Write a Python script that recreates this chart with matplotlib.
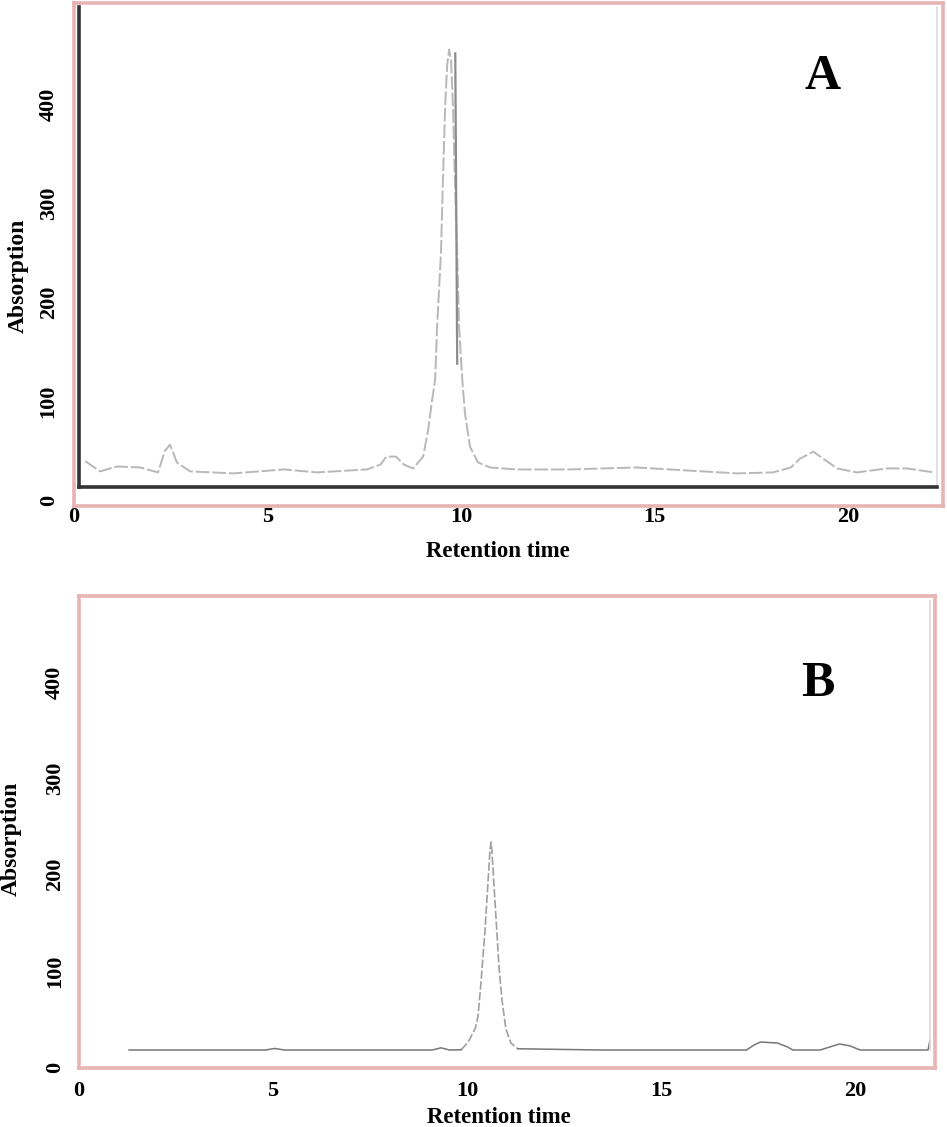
import matplotlib.pyplot as plt
import numpy as np

# chromatogram A (retention time, absorption)
retA = [0.29, 0.67, 1.11, 1.71, 2.17, 2.35, 2.48, 2.66, 3.0, 4.12, 5.42, 6.28, 7.57,
        7.92, 8.07, 8.32, 8.52, 8.76, 9.02, 9.15, 9.25, 9.33, 9.38, 9.48, 9.53, 9.59,
        9.64, 9.69, 9.74, 9.79, 9.84, 9.9, 9.95, 10.03, 10.1, 10.23, 10.44, 10.75,
        11.42, 12.82, 14.52, 17.12, 18.06, 18.52, 18.76, 19.1, 19.35, 19.72, 20.22,
        21.02, 21.52, 22.22]
absA = [39.5, 29, 34, 33, 28, 50, 56, 38, 29, 27, 31, 28, 31,
        36, 44, 44, 36, 32, 44, 71, 101, 122, 175, 250, 322, 400,
        440, 456, 445, 400, 322, 250, 175, 122, 88, 54, 38, 33,
        31, 31, 33, 27, 28, 33, 42, 49, 42, 32, 28,
        32, 32, 28]
# solid trace next to the top of the main peak in A
spikeA_x = [9.85, 9.9]
spikeA_y = [452, 138]

# chromatogram B
retB = [1.29, 3.0, 4.8, 5.04, 5.3, 7.0, 9.1, 9.33, 9.55, 9.85, 10.03, 10.21, 10.28,
        10.36, 10.41, 10.46, 10.54, 10.59, 10.62, 10.64, 10.69, 10.77, 10.82, 10.9,
        11.0, 11.13, 11.31, 13.5, 17.2, 17.4, 17.56, 18.0, 18.25, 18.4, 19.1, 19.36,
        19.6, 19.87, 20.13, 21.88, 21.93]
absB = [17.7, 17.7, 17.7, 19.3, 17.7, 17.7, 17.7, 20, 17.7, 18, 26, 40, 52,
        88, 115, 140, 192, 225, 234, 225, 192, 140, 106, 70,
        40, 25, 19, 17.7, 17.7, 23, 26, 25, 21, 17.7, 17.7, 21,
        24, 22, 17.7, 17.7, 28]

xticks = [0, 5, 10, 15, 20]
yticks = [0, 100, 200, 300, 400]

plt.rcParams['font.family'] = ['Liberation Serif', 'DejaVu Serif']
plt.rcParams['font.weight'] = 'bold'

W, H = 947, 1127
fig = plt.figure(figsize=(W / 100, H / 100), dpi=100)

def frac(l, t, r, b):
    return [l / W, 1 - b / H, (r - l) / W, (b - t) / H]

pink = '#e8b3b3'

def style(ax, xlim, ylim, xpad, ypad):
    ax.set_xlim(*xlim)
    ax.set_ylim(*ylim)
    ax.set_xticks(xticks)
    ax.set_yticks(yticks)
    ax.tick_params(axis='x', length=0, pad=xpad, labelsize=16)
    ax.tick_params(axis='y', length=0, pad=ypad, labelsize=16)
    for lab in ax.get_yticklabels():
        lab.set_rotation(90)
        lab.set_va('center')
    for s in ax.spines.values():
        s.set_color(pink)
        s.set_linewidth(2.6)

# ---- panel A ----
axA = fig.add_axes(frac(74, 3, 943, 506))
axA.plot(retA, absA, color='#b8b8b8', lw=1.4, ls=(0, (7, 1.5)))
axA.plot(spikeA_x, spikeA_y, color='#8c8c8c', lw=1.6)
style(axA, (0, 22.45), (-6, 503), 1, 11)
axA.set_xlabel('Retention time', fontsize=16.5, fontweight='bold')
axA.xaxis.set_label_coords(0.488, -0.0895)
axA.xaxis.label.set_va('center')
axA.set_ylabel('Absorption', fontsize=17, fontweight='bold')
axA.yaxis.set_label_coords(-0.064, 0.457)
axA.yaxis.label.set_va('center')
axA.text(0.861, 0.853, 'A', transform=axA.transAxes, fontsize=36,
         fontweight='bold', ha='center', va='center')

# inner frame of the original instrument plot
innA = fig.add_axes(frac(79, 7, 937, 487))
innA.set_facecolor('none')
innA.set_xticks([])
innA.set_yticks([])
innA.spines['top'].set_visible(False)
innA.spines['left'].set_color('#333333')
innA.spines['left'].set_linewidth(2.6)
innA.spines['bottom'].set_color('#333333')
innA.spines['bottom'].set_linewidth(2.6)
innA.spines['right'].set_color('#dddddd')
innA.spines['right'].set_linewidth(1.2)

# ---- panel B ----
axB = fig.add_axes(frac(79, 596, 935, 1068))
rb = np.array(retB)
ab = np.array(absB)
peak = (rb >= 9.85) & (rb <= 11.31)
axB.plot(rb[peak], ab[peak], color='#a0a0a0', lw=1.2, ls=(0, (5, 1.5)))
axB.plot(rb[rb <= 9.85], ab[rb <= 9.85], color='#777777', lw=1.1)
axB.plot(rb[rb >= 11.31], ab[rb >= 11.31], color='#777777', lw=1.1)
style(axB, (0.05, 22.06), (-1, 490), 9, 10)
axB.set_xlabel('Retention time', fontsize=16.5, fontweight='bold')
axB.xaxis.set_label_coords(0.49, -0.104)
axB.xaxis.label.set_va('center')
axB.set_ylabel('Absorption', fontsize=17, fontweight='bold')
axB.yaxis.set_label_coords(-0.079, 0.485)
axB.yaxis.label.set_va('center')
axB.text(0.863, 0.814, 'B', transform=axB.transAxes, fontsize=36,
         fontweight='bold', ha='center', va='center')

innB = fig.add_axes(frac(79, 601, 930, 1050))
innB.set_facecolor('none')
innB.set_xticks([])
innB.set_yticks([])
for k in ['top', 'left', 'bottom']:
    innB.spines[k].set_visible(False)
innB.spines['right'].set_color('#dddddd')
innB.spines['right'].set_linewidth(1.2)

fig.savefig('out.png', dpi=100)
